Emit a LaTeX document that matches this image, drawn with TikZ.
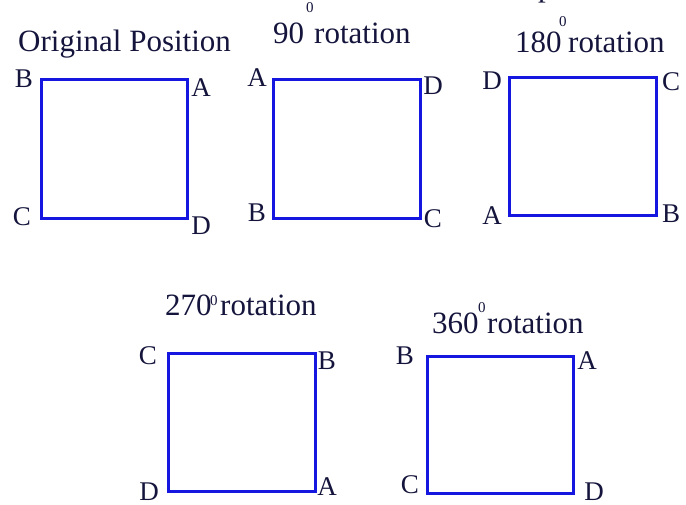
\documentclass[tikz,border=0pt]{standalone}
\usepackage{fontspec}
\setmainfont{Liberation Serif}
\definecolor{sqblue}{RGB}{22,22,225}
\definecolor{txt}{RGB}{20,20,60}
\begin{document}
\begin{tikzpicture}[x=1pt,y=-1pt,
  sq/.style={draw=sqblue,line width=3pt},
  lab/.style={inner sep=0pt,text=txt,font=\fontsize{27}{27}\selectfont},
  ttl/.style={inner sep=0pt,anchor=base west,text=txt,font=\fontsize{31}{31}\selectfont},
  sup/.style={inner sep=0pt,anchor=base west,text=txt,font=\fontsize{15}{15}\selectfont}]
\useasboundingbox (0,0) rectangle (686,504);
% cropped fragment at top
\node[ttl] (frag) at (538,-4) {p};
% Original position
\node[ttl] (t1) at (18,51) {Original Position};
\draw[sq] (41,79) rectangle (187,218);
\node[lab] (o1) at (24,79) {B};
\node[lab] (o2) at (201,88) {A};
\node[lab] (o3) at (22,217) {C};
\node[lab] (o4) at (201,226) {D};
% 90
\node[ttl] (t2a) at (273,43) {90};
\node[sup] (t2b) at (306,12) {0};
\node[ttl] (t2c) at (314,43) {rotation};
\draw[sq] (273,79) rectangle (420,218);
\node[lab] (n1) at (257,78) {A};
\node[lab] (n2) at (433,86) {D};
\node[lab] (n3) at (257,213) {B};
\node[lab] (n4) at (433,219) {C};
% 180
\node[ttl] (t3a) at (515,52) {180};
\node[sup] (t3b) at (559,26) {0};
\node[ttl] (t3c) at (568,52) {rotation};
\draw[sq] (509,77) rectangle (656,215);
\node[lab] (e1) at (492,81) {D};
\node[lab] (e2) at (671,82) {C};
\node[lab] (e3) at (492,216) {A};
\node[lab] (e4) at (671,214) {B};
% 270
\node[ttl] (t4a) at (165,315) {270};
\node[sup] (t4b) at (210,305) {0};
\node[ttl] (t4c) at (220,315) {rotation};
\draw[sq] (168,353) rectangle (315,491);
\node[lab] (s1) at (148,356) {C};
\node[lab] (s2) at (327,361) {B};
\node[lab] (s3) at (149,492) {D};
\node[lab] (s4) at (327,487) {A};
% 360
\node[ttl] (t5a) at (432,333) {360};
\node[sup] (t5b) at (478,312) {0};
\node[ttl] (t5c) at (487,333) {rotation};
\draw[sq] (427,356) rectangle (573,493);
\node[lab] (h1) at (405,356) {B};
\node[lab] (h2) at (587,361) {A};
\node[lab] (h3) at (410,485) {C};
\node[lab] (h4) at (594,492) {D};
\end{tikzpicture}
\end{document}
